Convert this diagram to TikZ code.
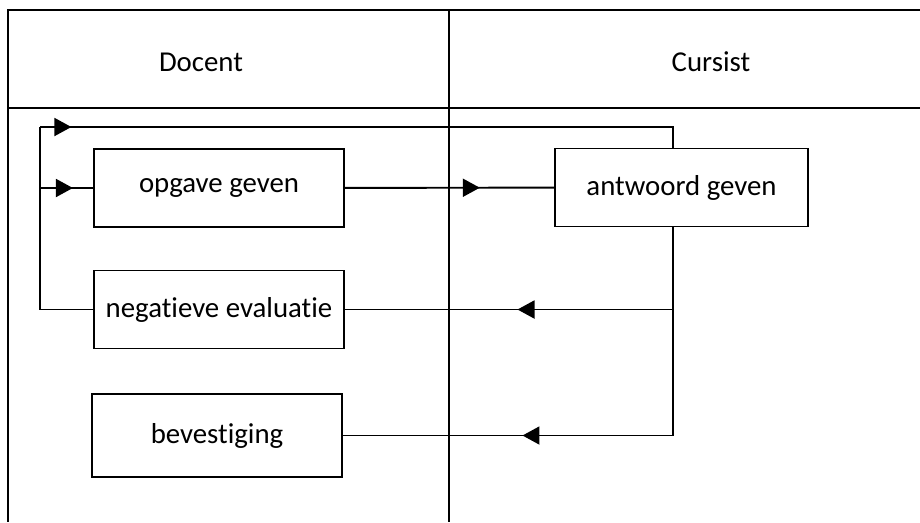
\documentclass[tikz,border=0pt]{standalone}
\usepackage{fontspec}
\setmainfont{Carlito}[Ligatures={NoCommon}]
\usepackage{tikz}
\usetikzlibrary{arrows.meta,decorations.markings}

\begin{document}
\begin{tikzpicture}[
        x=0.02cm, y=-0.02cm,
        lane/.style={line width=1.1pt, draw=black},
        lanetitle/.style={font=\fontsize{16.4pt}{19pt}\selectfont, text=black},
        taskbox/.style={rectangle, draw=black, line width=1.1pt, minimum width=5cm, minimum height=1.56cm, font=\fontsize{16.4pt}{19pt}\selectfont, text=black},
        flow/.style={line width=1.1pt, draw=black},
        midarrow/.style={postaction={decorate}, decoration={markings, mark=at position #1 with {\arrow{Triangle[length=0.34cm, width=0.36cm]}}}}
    ]
    \useasboundingbox (0,0) rectangle (920,522);

    % Swimlanes
    \draw[lane] (920,10) -- (8,10) -- (8,522);
    \draw[lane] (8,108) -- (920,108);
    \draw[lane] (449,10) -- (449,522);
    \node[lanetitle] (docent) at (201,62) {Docent};
    \node[lanetitle] (cursist) at (711,62) {Cursist};

    % Tasks
    \node[taskbox] (opgave) at (219,188) {opgave geven};
    \node[taskbox, minimum width=5.06cm] (antwoord) at (681.5,187.5) {antwoord geven};
    \node[taskbox] (negatief) at (219,309.5) {negatieve evaluatie};
    \node[taskbox, minimum height=1.66cm] (bevestiging) at (217,435.5) {bevestiging};

    % Help points
    \coordinate (loop) at (40,127);
    \coordinate (looptop) at (673,127);
    \coordinate (branch) at (40,188);
    \coordinate (tapneg) at (673,309.5);
    \coordinate (tapbev) at (673,435.5);

    % Flows
    \draw[flow, midarrow=0.645] (opgave) -- (antwoord);
    \draw[flow] (antwoord.south -| tapbev) -- (tapbev);
    \draw[flow, midarrow=0.474] (tapneg) -- (negatief);
    \draw[flow, midarrow=0.456] (tapbev) -- (bevestiging);
    \draw[flow] (negatief.west) -| (loop);
    \draw[flow, midarrow=0.048] (loop) -- (looptop) -- (looptop |- antwoord.north);
    \draw[flow, midarrow=0.62] (branch) -- (opgave);

\end{tikzpicture}
\end{document}
